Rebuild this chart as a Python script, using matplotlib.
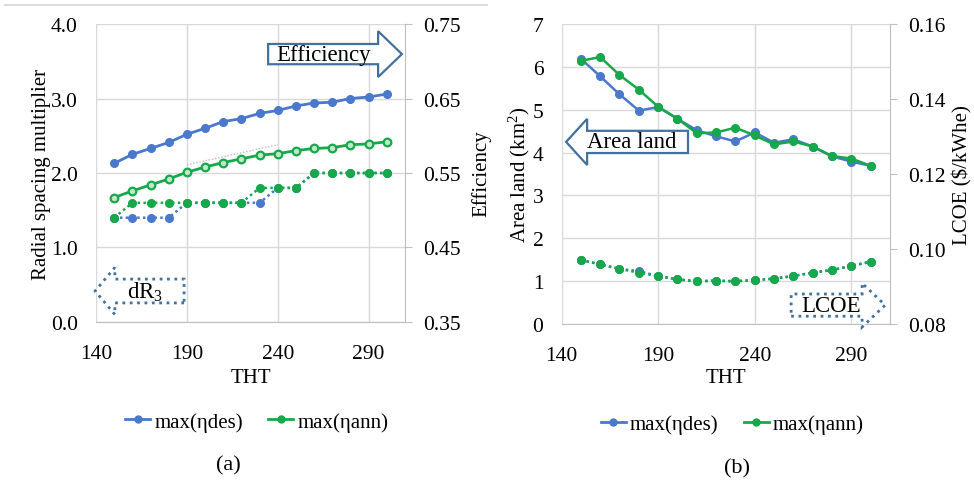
import matplotlib
matplotlib.use("Agg")
import matplotlib.pyplot as plt
from matplotlib.patches import Polygon
from matplotlib.lines import Line2D

plt.rcParams['font.family'] = ['Liberation Serif', 'DejaVu Serif']
plt.rcParams['mathtext.fontset'] = 'custom'
plt.rcParams['mathtext.rm'] = 'Liberation Serif'
plt.rcParams['mathtext.it'] = 'Liberation Serif:italic'
plt.rcParams['font.size'] = 15

########### DATA ##############

tht = [150, 160, 170, 180, 190, 200, 210, 220, 230, 240, 250, 260, 270, 280, 290, 300]

# (a) efficiency (right axis) and radial spacing multiplier dR3 (left axis)
eff_des = [0.563, 0.575, 0.583, 0.591, 0.602, 0.610, 0.619, 0.623,
           0.630, 0.634, 0.640, 0.644, 0.645, 0.650, 0.652, 0.656]
eff_ann = [0.517, 0.526, 0.534, 0.542, 0.551, 0.558, 0.564, 0.569,
           0.574, 0.576, 0.580, 0.583, 0.584, 0.588, 0.589, 0.592]
dr3_des = [1.4, 1.4, 1.4, 1.4, 1.6, 1.6, 1.6, 1.6, 1.6, 1.8, 1.8, 2.0, 2.0, 2.0, 2.0, 2.0]
dr3_ann = [1.4, 1.6, 1.6, 1.6, 1.6, 1.6, 1.6, 1.6, 1.8, 1.8, 1.8, 2.0, 2.0, 2.0, 2.0, 2.0]
trend_x = [190, 240]
trend_y = [2.11, 2.38]

# (b) land area (left axis) and LCOE (right axis)
area_des = [6.19, 5.78, 5.36, 4.98, 5.06, 4.79, 4.52, 4.38,
            4.26, 4.47, 4.23, 4.31, 4.14, 3.91, 3.79, 3.69]
area_ann = [6.14, 6.23, 5.81, 5.47, 5.07, 4.79, 4.45, 4.47,
            4.58, 4.40, 4.19, 4.26, 4.14, 3.92, 3.86, 3.69]
lcoe_des = [0.0971, 0.0959, 0.0947, 0.0941, 0.0928, 0.0919, 0.0914, 0.0916,
            0.0914, 0.0917, 0.0921, 0.0928, 0.0937, 0.0944, 0.0955, 0.0966]
lcoe_ann = [0.0971, 0.0959, 0.0947, 0.0937, 0.0928, 0.0919, 0.0914, 0.0915,
            0.0914, 0.0917, 0.0921, 0.0928, 0.0937, 0.0944, 0.0955, 0.0966]

x_ticks = [140, 190, 240, 290]
series_names = ["max(\u03b7des)", "max(\u03b7ann)"]

BLUE = "#4a78cc"
GREEN = "#16a84a"
GRID = "#d9d9d9"
SPINE = "#bfbfbf"
ARROW = "#41719c"
DOT = (0, (1, 1.3))


def style_axes(ax, tw):
    ax.set_xlim(140, 310)
    ax.set_xticks(x_ticks)
    ax.grid(True, color=GRID, lw=1)
    ax.set_axisbelow(True)
    for s in ["top", "left", "right"]:
        ax.spines[s].set_visible(False)
    ax.spines["bottom"].set_color(SPINE)
    ax.tick_params(axis="x", length=0, pad=15.5, labelsize=15.5)
    ax.tick_params(axis="y", length=0, pad=13, labelsize=15.5)
    for s in ["top", "left", "bottom"]:
        tw.spines[s].set_visible(False)
    tw.spines["right"].set_color(SPINE)
    tw.tick_params(axis="y", length=5, color=SPINE, pad=8, labelsize=15.5)


def block_arrow(ax, x_tail, x_base, x_tip, yc, half_h, half_head, text, tx, ls="-"):
    # block arrow drawn in axes fraction coordinates
    pts = [(x_tail, yc - half_h), (x_base, yc - half_h), (x_base, yc - half_head),
           (x_tip, yc), (x_base, yc + half_head), (x_base, yc + half_h),
           (x_tail, yc + half_h)]
    lw = 1.6 if ls == "-" else 2.0
    p = Polygon(pts, closed=True, transform=ax.transAxes, facecolor="white",
                edgecolor=ARROW, lw=lw, ls=ls, clip_on=False, zorder=6)
    ax.add_patch(p)
    ax.text(tx, yc, text, transform=ax.transAxes, ha="center", va="center",
            fontsize=16.5, zorder=7)


fig = plt.figure(figsize=(9.74, 4.81), dpi=100)
fig.add_artist(Line2D([0.005, 0.5], [0.988, 0.988], transform=fig.transFigure,
                      color="#dcdcdc", lw=1.5))

########### (a) ##############
ax1 = fig.add_axes([0.0986, 0.3285, 0.3172, 0.6195])
tw1 = ax1.twinx()
style_axes(ax1, tw1)

ax1.plot(trend_x, trend_y, color="#c9b8c2", lw=1, ls=DOT, zorder=2)
ax1.plot(tht, dr3_des, color=BLUE, lw=1.8, ls=DOT, marker="o", ms=5.5, zorder=3)
ax1.plot(tht, dr3_ann, color=GREEN, lw=1.8, ls=DOT, marker="o", ms=5.5, zorder=4)
ax1.set_ylim(0, 4)
ax1.set_yticks([0, 1, 2, 3, 4])
ax1.set_yticklabels(["0.0", "1.0", "2.0", "3.0", "4.0"])

tw1.plot(tht, eff_des, color=BLUE, lw=2, marker="o", ms=5.5)
tw1.plot(tht, eff_ann, color=GREEN, lw=2, marker="o", ms=5.5,
         markerfacecolor="#bfe8cb", markeredgewidth=1.6)
tw1.set_ylim(0.35, 0.75)
tw1.set_yticks([0.35, 0.45, 0.55, 0.65, 0.75])
tw1.set_yticklabels(["0.35", "0.45", "0.55", "0.65", "0.75"])

ax1.set_xlabel("THT")
ax1.xaxis.set_label_coords(0.5, -0.155)
ax1.set_ylabel("Radial spacing multiplier")
ax1.yaxis.set_label_coords(-0.145, 0.5)
tw1.set_ylabel("Efficiency")
tw1.yaxis.set_label_coords(1.215, 0.5)

block_arrow(tw1, 0.557, 0.913, 0.990, 0.899, 0.034, 0.077, "Efficiency", 0.735)
block_arrow(tw1, 0.285, 0.061, -0.003, 0.104, 0.040, 0.079, "dR$_3$", 0.16, ls=":")

########### (b) ##############
ax2 = fig.add_axes([0.5765, 0.3243, 0.3373, 0.6237])
tw2 = ax2.twinx()
style_axes(ax2, tw2)

ax2.plot(tht, area_des, color=BLUE, lw=1.8, marker="o", ms=5.5, zorder=3)
ax2.plot(tht, area_ann, color=GREEN, lw=1.8, marker="o", ms=5.5, zorder=4)
ax2.set_ylim(0, 7)
ax2.set_yticks(range(0, 8))

tw2.plot(tht, lcoe_des, color=BLUE, lw=1.8, ls=DOT, marker="o", ms=5.5)
tw2.plot(tht, lcoe_ann, color=GREEN, lw=1.8, ls=DOT, marker="o", ms=5.5)
tw2.set_ylim(0.08, 0.16)
tw2.set_yticks([0.08, 0.10, 0.12, 0.14, 0.16])
tw2.set_yticklabels(["0.08", "0.10", "0.12", "0.14", "0.16"])

ax2.set_xlabel("THT")
ax2.xaxis.set_label_coords(0.5, -0.148)
ax2.set_ylabel("Area land (km$^2$)")
ax2.yaxis.set_label_coords(-0.09, 0.5)
tw2.set_ylabel("LCOE ($/kWhe)")
tw2.yaxis.set_label_coords(1.19, 0.5)

block_arrow(tw2, 0.385, 0.078, 0.014, 0.607, 0.037, 0.077, "Area land", 0.215)
block_arrow(tw2, 0.699, 0.915, 0.985, 0.063, 0.037, 0.073, "LCOE", 0.82, ls=":")

########### legends / captions ##############
handles = [Line2D([], [], color=BLUE, lw=2, marker="o", ms=5),
           Line2D([], [], color=GREEN, lw=2, marker="o", ms=5)]
for ax, cap, cx in [(ax1, "(a)", 0.427), (ax2, "(b)", 0.534)]:
    ax.legend(handles, series_names, loc="center", bbox_to_anchor=(0.52, -0.335),
              ncol=2, frameon=False, fontsize=15, handlelength=1.2,
              handletextpad=0.2, columnspacing=1.2)
    ax.text(cx, -0.48, cap, transform=ax.transAxes, ha="center", va="center",
            fontsize=16)

plt.savefig("out.png", dpi=100)
plt.close()
